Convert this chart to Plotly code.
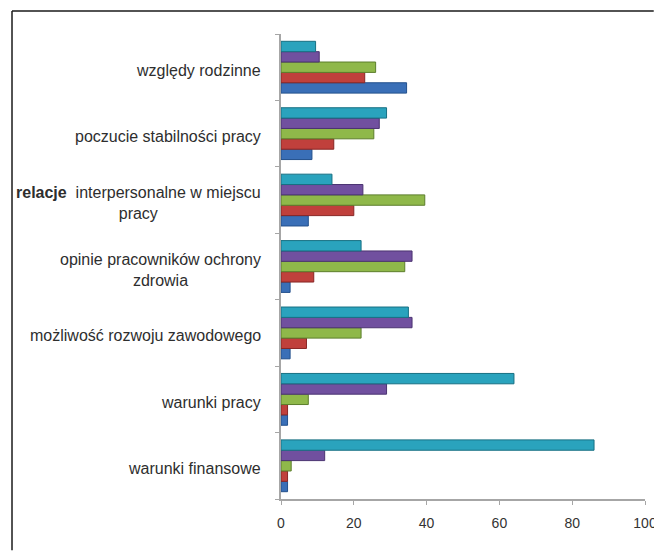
import plotly.graph_objects as go

# Categories listed bottom to top
categories = [
    "warunki finansowe",
    "warunki pracy",
    "możliwość rozwoju zawodowego",
    "opinie pracowników ochrony zdrowia",
    "relacje interpersonalne w miejscu pracy",
    "poczucie stabilności pracy",
    "względy rodzinne",
]
category_labels = [
    "warunki finansowe",
    "warunki pracy",
    "możliwość rozwoju zawodowego",
    "opinie pracowników ochrony<br>zdrowia",
    "<b>relacje</b>  interpersonalne w miejscu<br>pracy",
    "poczucie stabilności pracy",
    "względy rodzinne",
]

series_blue = [1.8, 1.8, 2.5, 2.5, 7.5, 8.5, 34.5]
series_red = [1.8, 1.8, 7.0, 9.0, 20.0, 14.5, 23.0]
series_green = [2.8, 7.5, 22.0, 34.0, 39.5, 25.5, 26.0]
series_purple = [12.0, 29.0, 36.0, 36.0, 22.5, 27.0, 10.5]
series_cyan = [86.0, 64.0, 35.0, 22.0, 14.0, 29.0, 9.5]

x_ticks = [0, 20, 40, 60, 80, 100]

series = [
    (series_blue, "#3a6fb7", "#23508c"),
    (series_red, "#c0403c", "#882624"),
    (series_green, "#8fb84a", "#5c7e2c"),
    (series_purple, "#71509f", "#4b3371"),
    (series_cyan, "#2aa3bd", "#177083"),
]

fig = go.Figure()
for values, fill, edge in series:
    fig.add_trace(go.Bar(
        x=values, y=categories, orientation="h",
        marker=dict(color=fill, line=dict(color=edge, width=1)),
        showlegend=False,
    ))

label_font = dict(family="Liberation Sans, Arial, sans-serif", size=16, color="#2e2e2e")
for cat, lab in zip(categories, category_labels):
    fig.add_annotation(
        x=-0.05, xref="paper", y=cat, yref="y", yshift=-3,
        text=lab, showarrow=False, xanchor="right", align="center",
        font=label_font,
    )

# outer frame: top and left edges (the rest runs off the page)
frame = dict(color="#1a1a1a", width=1.5)
fig.add_shape(type="line", xref="paper", yref="paper",
              x0=-0.739, x1=1.024, y0=1.0495, y1=1.0495, line=frame, layer="below")
fig.add_shape(type="line", xref="paper", yref="paper",
              x0=-0.739, x1=-0.739, y0=1.0495, y1=-0.11, line=frame, layer="below")

fig.update_layout(
    width=654, height=551,
    margin=dict(l=281, r=9, t=34, b=52),
    barmode="group", bargap=0.22, bargroupgap=0,
    plot_bgcolor="white", paper_bgcolor="white",
    xaxis=dict(
        range=[0, 100], tickvals=x_ticks, showgrid=False, zeroline=False,
        showline=True, linecolor="#a6a6a6", linewidth=1.5,
        ticks="outside", ticklen=4, tickcolor="#a6a6a6",
        ticklabelstandoff=6, ticklabeloverflow="allow", automargin=False,
        tickfont=dict(family="Liberation Sans, Arial, sans-serif", size=14, color="#333333"),
    ),
    yaxis=dict(
        type="category", categoryorder="array", categoryarray=categories,
        tickson="boundaries", showticklabels=False, showgrid=False,
        showline=True, linecolor="#a6a6a6", linewidth=1.5,
        ticks="outside", ticklen=4, tickcolor="#a6a6a6", automargin=False,
    ),
)

fig.write_html("out.html")
